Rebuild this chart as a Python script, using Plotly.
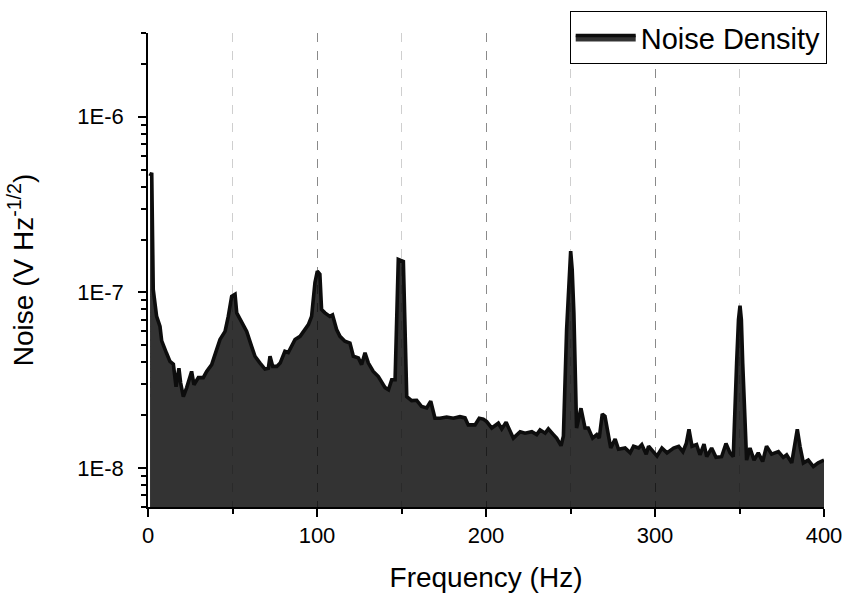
import numpy as np
import plotly.graph_objects as go

# ---- data ----
freq = [1.2, 2.2, 3.1, 5.1, 7.1, 8.1, 11, 13, 15, 16.6, 18.3, 19.3, 20.9, 22.9, 25.8, 27.2,
        29.8, 32.7, 34.7, 37.7, 39, 42.6, 45.6, 47.5, 49.5, 51.5, 52.5, 55.4, 58.4, 61.3,
        63.3, 66.3, 69.2, 71.2, 72.2, 73.8, 76.2, 78.2, 81, 83, 87, 90, 91.9, 94.9, 96.8,
        98.8, 100.2, 101.7, 102.7, 104.7, 107.6, 109.2, 111.6, 113.6, 116.5, 119.5, 121.5,
        124.5, 126.4, 128.4, 130.4, 133.3, 136.3, 138.3, 140.3, 142.3, 144.2, 146.2, 148.1,
        151.1, 153.1, 156, 159, 161.9, 164.9, 167.3, 169.8, 172.8, 176.7, 180.7, 184.6,
        187.6, 189.5, 193.5, 196, 198.4, 200.4, 203.4, 207.3, 209.3, 211.9, 216.2, 220.2,
        223.1, 227.1, 230, 232, 235, 236.9, 239.9, 241.8, 244.4, 245.8, 247.7, 249.2, 250.1,
        251.0, 252, 253.6, 256.2, 258.6, 260.5, 263.1, 265.5, 267, 268.8, 270.4, 272.4,
        273.8, 276.4, 278.4, 282.3, 285.3, 287.3, 290.3, 292.2, 294.8, 296.2, 299.2, 301.2,
        304.1, 307.1, 311, 314, 316.5, 318.5, 320.1, 321.9, 324.6, 326.6, 329, 330.6, 333.5,
        336.1, 339.4, 342, 344.4, 346.3, 348.3, 349.4, 350.3, 351.1, 351.9, 354.2, 356.2,
        358.6, 361.1, 363.7, 366, 369, 373, 375.9, 377.9, 380.9, 382.8, 384.2, 385.8, 387.8,
        390.7, 393.7, 396.6, 399.2, 400]

noise = [4.6e-7, 4.8e-7, 1.04e-7, 7.3e-8, 6.4e-8, 5.3e-8, 4.5e-8, 4.05e-8, 3.9e-8, 2.9e-8,
         3.7e-8, 3.06e-8, 2.55e-8, 2.87e-8, 3.55e-8, 2.98e-8, 3.27e-8, 3.27e-8, 3.55e-8,
         3.88e-8, 4.24e-8, 5.4e-8, 6.0e-8, 7.3e-8, 9.5e-8, 9.75e-8, 7.65e-8, 6.85e-8, 6.0e-8,
         4.93e-8, 4.33e-8, 3.96e-8, 3.66e-8, 3.7e-8, 4.33e-8, 3.79e-8, 3.79e-8, 3.96e-8,
         4.62e-8, 4.55e-8, 5.4e-8, 5.62e-8, 6.0e-8, 6.56e-8, 7.3e-8, 1.14e-7, 1.32e-7,
         1.27e-7, 8.0e-8, 7.65e-8, 7.3e-8, 7.45e-8, 6.15e-8, 5.62e-8, 5.27e-8, 5.15e-8,
         4.33e-8, 4.24e-8, 3.88e-8, 4.53e-8, 3.96e-8, 3.55e-8, 3.32e-8, 3.06e-8, 2.87e-8,
         2.79e-8, 3.18e-8, 3.18e-8, 1.54e-7, 1.5e-7, 2.55e-8, 2.42e-8, 2.43e-8, 2.24e-8,
         2.2e-8, 2.4e-8, 1.92e-8, 1.92e-8, 1.95e-8, 1.92e-8, 1.96e-8, 1.93e-8, 1.76e-8,
         1.76e-8, 1.92e-8, 1.9e-8, 1.84e-8, 1.69e-8, 1.8e-8, 1.67e-8, 1.82e-8, 1.48e-8,
         1.61e-8, 1.58e-8, 1.61e-8, 1.55e-8, 1.65e-8, 1.58e-8, 1.67e-8, 1.55e-8, 1.48e-8,
         1.34e-8, 1.52e-8, 6.15e-8, 1.35e-7, 1.72e-7, 1.35e-7, 7.65e-8, 1.69e-8, 2.19e-8,
         1.69e-8, 1.69e-8, 1.48e-8, 1.55e-8, 1.48e-8, 2.03e-8, 1.97e-8, 1.52e-8, 1.3e-8,
         1.46e-8, 1.28e-8, 1.3e-8, 1.22e-8, 1.33e-8, 1.3e-8, 1.36e-8, 1.2e-8, 1.33e-8,
         1.24e-8, 1.17e-8, 1.3e-8, 1.22e-8, 1.3e-8, 1.33e-8, 1.24e-8, 1.38e-8, 1.66e-8,
         1.33e-8, 1.36e-8, 1.19e-8, 1.37e-8, 1.16e-8, 1.3e-8, 1.15e-8, 1.16e-8, 1.38e-8,
         1.22e-8, 1.16e-8, 3.96e-8, 7.0e-8, 8.4e-8, 7.0e-8, 3.96e-8, 1.11e-8, 1.3e-8,
         1.11e-8, 1.22e-8, 1.09e-8, 1.33e-8, 1.2e-8, 1.24e-8, 1.15e-8, 1.19e-8, 1.07e-8,
         1.38e-8, 1.66e-8, 1.33e-8, 1.07e-8, 1.11e-8, 1.02e-8, 1.07e-8, 1.11e-8, 1.11e-8]

y_tick_vals = [1e-8, 1e-7, 1e-6]
y_tick_text = ["1E-8", "1E-7", "1E-6"]
series_name = "Noise Density"

FONT = "Liberation Sans, Arial, sans-serif"

y_lo, y_hi = 6e-9, 3e-6
minor_vals = [m * 10.0 ** e for e in range(-9, -5) for m in range(2, 10)
              if y_lo * 0.999 <= m * 10.0 ** e <= y_hi * 1.001]

fig = go.Figure()
fig.add_trace(go.Scatter(
    x=freq, y=noise, mode="lines", name=series_name,
    fill="tozeroy", fillcolor="rgba(0,0,0,0.8)",
    line=dict(color="#0d0d0d", width=3.6),
))

fig.update_layout(
    width=845, height=593,
    margin=dict(l=148, r=21, t=33, b=86, autoexpand=False),
    paper_bgcolor="white", plot_bgcolor="white",
    font=dict(family=FONT, size=22, color="black"),
    showlegend=True,
    legend=dict(
        x=1.004, xanchor="right", y=1.046, yanchor="top",
        bgcolor="white", bordercolor="black", borderwidth=1,
        font=dict(size=29, family=FONT, color="black"),
        itemwidth=60,
    ),
    xaxis=dict(
        automargin=False,
        range=[0, 400], dtick=100, tick0=0,
        showline=True, linecolor="black", linewidth=1.6,
        ticks="outside", ticklen=8, tickwidth=1.6, tickcolor="black",
        showgrid=True, gridcolor="#8a8a8a", griddash="dash", gridwidth=1,
        zeroline=False,
        minor=dict(dtick=50, tick0=0, ticks="outside", ticklen=5, tickwidth=1.6,
                   tickcolor="black", showgrid=True, gridcolor="#cfcfcf",
                   griddash="dash", gridwidth=1),
        title=dict(text="Frequency (Hz)", font=dict(size=28, family=FONT), standoff=30),
        tickfont=dict(size=22, family=FONT),
        ticklabelstandoff=0,
    ),
    yaxis=dict(
        automargin=False,
        type="log", range=[np.log10(y_lo), np.log10(y_hi)],
        tickmode="array", tickvals=y_tick_vals, ticktext=y_tick_text,
        showline=True, linecolor="black", linewidth=1.6,
        ticks="outside", ticklen=8, tickwidth=1.6, tickcolor="black",
        showgrid=False, zeroline=False,
        minor=dict(tickmode="array", tickvals=minor_vals, ticks="outside",
                   ticklen=5, tickwidth=1.6, tickcolor="black", showgrid=False),
        title=dict(text="Noise (V Hz<sup>-1/2</sup>)", font=dict(size=28, family=FONT),
                   standoff=36),
        tickfont=dict(size=22, family=FONT),
        ticklabelstandoff=10,
    ),
)

fig.write_html("out.html")
